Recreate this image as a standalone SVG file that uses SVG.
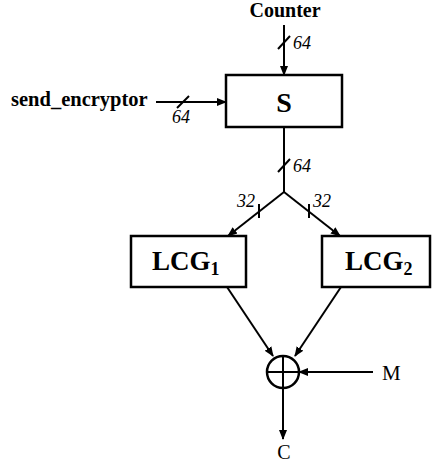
<svg xmlns="http://www.w3.org/2000/svg" width="432" height="465" viewBox="0 0 432 465">
<style>
text{font-family:'Liberation Serif','DejaVu Serif','Times New Roman',serif;fill:#000}
.lbl{font-weight:bold}
.num{font-style:italic;font-size:18px}
.box{fill:#fff;stroke:#000;stroke-width:2.5}
.ln{fill:none;stroke:#000;stroke-width:2}
</style>
<defs>
<marker id="ah" markerWidth="10" markerHeight="10" refX="9" refY="5" orient="auto" markerUnits="userSpaceOnUse">
<path d="M0,1 L10,5 L0,9 Z" fill="#000"/>
</marker>
</defs>
<g id="connectors">
<line class="ln" x1="284" y1="25" x2="284" y2="75" marker-end="url(#ah)"/>
<line class="ln" x1="278" y1="49" x2="290" y2="36"/>
<line class="ln" x1="156" y1="102" x2="226" y2="102" marker-end="url(#ah)"/>
<line class="ln" x1="177" y1="108" x2="189" y2="96"/>
<polyline class="ln" points="284,127 284,192"/>
<line class="ln" x1="278" y1="172" x2="290" y2="159"/>
<line class="ln" x1="284" y1="192" x2="228" y2="236" marker-end="url(#ah)"/>
<line class="ln" x1="284" y1="192" x2="340" y2="236" marker-end="url(#ah)"/>
<line class="ln" x1="259" y1="204" x2="259" y2="218"/>
<line class="ln" x1="309" y1="204" x2="309" y2="218"/>
<line class="ln" x1="227" y1="287" x2="273" y2="356" marker-end="url(#ah)"/>
<line class="ln" x1="341" y1="287" x2="295" y2="356" marker-end="url(#ah)"/>
<line class="ln" x1="373" y1="372" x2="299" y2="372" marker-end="url(#ah)"/>
<line class="ln" x1="283" y1="388" x2="283" y2="439" marker-end="url(#ah)"/>
</g>
<g id="counter"><text class="lbl" x="285" y="17" font-size="20" text-anchor="middle">Counter</text></g>
<g id="label-64a"><text class="num" x="293" y="49">64</text></g>
<g id="send_encryptor"><text class="lbl" x="11" y="106" font-size="20.5">send_encryptor</text></g>
<g id="label-64b"><text class="num" x="172" y="123">64</text></g>
<g id="S"><rect class="box" x="226" y="75" width="116" height="52"/><text class="lbl" x="284" y="112" font-size="28" text-anchor="middle">S</text></g>
<g id="label-64c"><text class="num" x="293" y="172">64</text></g>
<g id="label-32a"><text class="num" x="237" y="207">32</text></g>
<g id="label-32b"><text class="num" x="313" y="207">32</text></g>
<g id="LCG1"><rect class="box" x="131" y="236" width="115" height="51"/><text class="lbl" x="152" y="270" font-size="27">LCG<tspan font-size="18" dy="5">1</tspan></text></g>
<g id="LCG2"><rect class="box" x="322" y="236" width="108" height="51"/><text class="lbl" x="345" y="270" font-size="27">LCG<tspan font-size="18" dy="5">2</tspan></text></g>
<g id="xor"><circle cx="283" cy="372" r="16" fill="#fff" stroke="#000" stroke-width="2.5"/><line class="ln" x1="267" y1="372" x2="299" y2="372"/><line class="ln" x1="283" y1="356" x2="283" y2="388"/></g>
<g id="M"><text x="382" y="380" font-size="21">M</text></g>
<g id="C"><text x="284" y="459" font-size="20" text-anchor="middle">C</text></g>
</svg>
